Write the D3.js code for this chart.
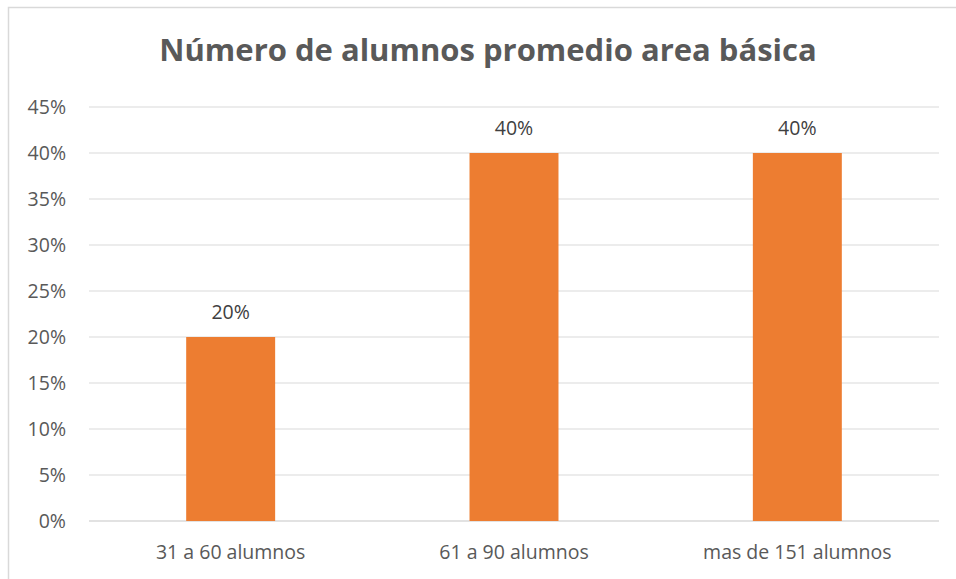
<!DOCTYPE html>
<html>
<head>
<meta charset="utf-8">
<script src="https://cdn.jsdelivr.net/npm/d3@7"></script>
<style>
  body { margin: 0; background: #fff; }
  text { font-family: "Open Sans", "Noto Sans", sans-serif; fill: #595959; }
</style>
</head>
<body>
<svg id="chart" width="956" height="579"></svg>
<script>
const categories = ["31 a 60 alumnos", "61 a 90 alumnos", "mas de 151 alumnos"];
const values = [0.20, 0.40, 0.40];
const yTicks = [0, 0.05, 0.10, 0.15, 0.20, 0.25, 0.30, 0.35, 0.40, 0.45];
const title = "Número de alumnos promedio area básica";

let chart = d3.select("#chart");
let plotLeft = 89, plotRight = 939, plotTop = 107, plotBottom = 521;

// chart frame
chart.append("rect")
    .attr("x", 8.5).attr("y", 7.5)
    .attr("width", 960).attr("height", 600)
    .attr("fill", "none")
    .attr("stroke", "#d9d9d9")
    .attr("stroke-width", 1.5);

let xScale = d3.scaleBand()
    .domain(categories)
    .range([plotLeft, plotRight]);

let yScale = d3.scaleLinear()
    .domain([0, 0.45])
    .range([plotBottom, plotTop]);

// gridlines
chart.selectAll("line.grid")
    .data(yTicks).enter()
    .append("line")
        .attr("class", "grid")
        .attr("x1", plotLeft).attr("x2", plotRight)
        .attr("y1", d => yScale(d)).attr("y2", d => yScale(d))
        .attr("stroke", "#d9d9d9")
        .attr("stroke-width", d => d === 0 ? 1.5 : 1);

// y tick labels
chart.selectAll("text.ytick")
    .data(yTicks).enter()
    .append("text")
        .attr("class", "ytick")
        .attr("x", 66)
        .attr("y", d => yScale(d) + 7)
        .attr("text-anchor", "end")
        .style("font-size", "19.5px")
        .text(d => d3.format(".0%")(d));

let barW = xScale.bandwidth() * 0.314;

chart.selectAll("rect.bar")
    .data(values).enter()
    .append("rect")
        .attr("class", "bar")
        .attr("x", (d, i) => xScale(categories[i]) + xScale.bandwidth() / 2 - barW / 2)
        .attr("y", d => yScale(d))
        .attr("width", barW)
        .attr("height", d => yScale(0) - yScale(d))
        .attr("fill", "#ed7d31");

// value labels
chart.selectAll("text.val")
    .data(values).enter()
    .append("text")
        .attr("class", "val")
        .attr("x", (d, i) => xScale(categories[i]) + xScale.bandwidth() / 2)
        .attr("y", d => yScale(d) - 18)
        .attr("text-anchor", "middle")
        .style("font-size", "19.5px")
        .style("fill", "#404040")
        .text(d => d3.format(".0%")(d));

// category labels
chart.selectAll("text.cat")
    .data(categories).enter()
    .append("text")
        .attr("class", "cat")
        .attr("x", d => xScale(d) + xScale.bandwidth() / 2)
        .attr("y", 559)
        .attr("text-anchor", "middle")
        .style("font-size", "19.5px")
        .text(d => d);

chart.append("text")
    .attr("x", 488)
    .attr("y", 61)
    .attr("text-anchor", "middle")
    .style("font-size", "31px")
    .style("font-weight", "bold")
    .text(title);
</script>
</body>
</html>
